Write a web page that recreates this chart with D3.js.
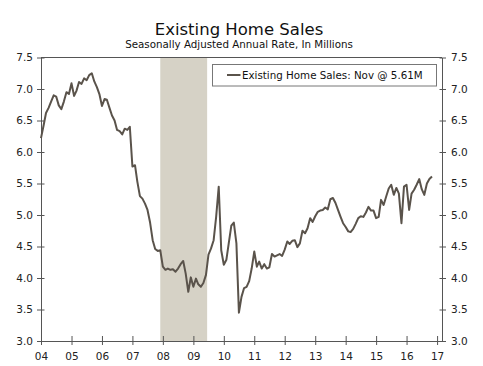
<!DOCTYPE html>
<html>
<head>
<meta charset="utf-8">
<script src="https://cdn.jsdelivr.net/npm/d3@7/dist/d3.min.js"></script>
<style>
  body { margin: 0; background: #fff; }
  svg { display: block; font-family: "DejaVu Sans", Verdana, sans-serif; }
</style>
</head>
<body>
<div id="chart-area"></div>
<script>
// monthly existing home sales, SAAR in millions, Jan 2004 .. Nov 2016
var startMonth = "2004-01";
var sales = [
  6.22, 6.42, 6.62, 6.70, 6.80, 6.90, 6.88, 6.74, 6.68, 6.80, 6.95, 6.92,   // 2004
  7.09, 6.89, 6.97, 7.11, 7.08, 7.17, 7.14, 7.22, 7.25, 7.12, 7.03, 6.92,   // 2005
  6.73, 6.84, 6.83, 6.70, 6.58, 6.50, 6.35, 6.33, 6.28, 6.37, 6.35, 6.40,   // 2006
  5.77, 5.79, 5.53, 5.30, 5.26, 5.18, 5.08, 4.88, 4.60, 4.46, 4.43, 4.44,   // 2007
  4.18, 4.13, 4.15, 4.13, 4.14, 4.10, 4.15, 4.22, 4.27, 4.07, 3.78, 4.01,   // 2008
  3.86, 3.99, 3.90, 3.86, 3.92, 4.05, 4.37, 4.47, 4.60, 4.97, 5.45, 4.44,   // 2009
  4.21, 4.29, 4.55, 4.83, 4.88, 4.55, 3.45, 3.70, 3.84, 3.86, 3.95, 4.15,   // 2010
  4.42, 4.18, 4.26, 4.15, 4.22, 4.15, 4.17, 4.38, 4.34, 4.36, 4.38, 4.35,   // 2011
  4.45, 4.58, 4.54, 4.59, 4.60, 4.49, 4.55, 4.75, 4.71, 4.79, 4.95, 4.89,   // 2012
  4.98, 5.05, 5.07, 5.08, 5.12, 5.09, 5.25, 5.27, 5.19, 5.08, 4.97, 4.87,   // 2013
  4.81, 4.74, 4.73, 4.78, 4.86, 4.95, 4.98, 4.97, 5.04, 5.13, 5.07, 5.07,   // 2014
  4.95, 4.97, 5.24, 5.16, 5.29, 5.42, 5.48, 5.32, 5.43, 5.34, 4.87, 5.45,   // 2015
  5.48, 5.08, 5.34, 5.40, 5.48, 5.57, 5.41, 5.32, 5.50, 5.57, 5.61          // 2016
];
var yTicks = [3.0, 3.5, 4.0, 4.5, 5.0, 5.5, 6.0, 6.5, 7.0, 7.5];
var recession = ["2007-12-01", "2009-06-15"];
var legendLabel = "Existing Home Sales: Nov @ 5.61M";

var width = 483, height = 366;
var margin = {left: 41, right: 41, top: 57.5, bottom: 25};

var parseMonth = d3.timeParse("%Y-%m");
var parseDay = d3.timeParse("%Y-%m-%d");
var data = sales.map(function(v, i){
  return {date: d3.timeMonth.offset(parseMonth(startMonth), i), value: v};
});

var svg = d3.select("#chart-area")
  .append("svg")
  .attr("width", width)
  .attr("height", height);

var x = d3.scaleTime()
  .domain([parseMonth("2004-01"), parseDay("2017-03-01")])
  .range([margin.left, width - margin.right]);

var y = d3.scaleLinear()
  .domain([3, 7.5])
  .range([height - margin.bottom, margin.top]);

// title
svg.append("text")
  .attr("x", 239).attr("y", 35)
  .attr("text-anchor", "middle")
  .attr("font-size", "16.5px")
  .attr("fill", "#111")
  .text("Existing Home Sales");

svg.append("text")
  .attr("x", 239).attr("y", 47.5)
  .attr("text-anchor", "middle")
  .attr("font-size", "10.3px")
  .attr("fill", "#111")
  .text("Seasonally Adjusted Annual Rate, In Millions");

// recession shading
svg.append("rect")
  .attr("x", x(parseDay(recession[0])))
  .attr("y", y(7.5))
  .attr("width", x(parseDay(recession[1])) - x(parseDay(recession[0])))
  .attr("height", y(3) - y(7.5))
  .attr("fill", "#d6d2c6");

// box top line
svg.append("line")
  .attr("x1", x.range()[0]).attr("x2", x.range()[1])
  .attr("y1", y(7.5)).attr("y2", y(7.5))
  .attr("stroke", "#555").attr("stroke-width", 1);

// axes
var yLeft = svg.append("g")
  .attr("transform", "translate(" + x.range()[0] + ",0)")
  .call(d3.axisLeft(y).tickValues(yTicks).tickFormat(d3.format(".1f")).tickSizeInner(4).tickSizeOuter(0).tickPadding(4));

var yRight = svg.append("g")
  .attr("transform", "translate(" + x.range()[1] + ",0)")
  .call(d3.axisRight(y).tickValues(yTicks).tickFormat(d3.format(".1f")).tickSizeInner(4).tickSizeOuter(0).tickPadding(5));

var xAxis = svg.append("g")
  .attr("transform", "translate(0," + y(3) + ")")
  .call(d3.axisBottom(x).ticks(d3.timeYear.every(1)).tickFormat(d3.timeFormat("%y")).tickSizeInner(4).tickSizeOuter(0).tickPadding(8));

[yLeft, yRight, xAxis].forEach(function(g){
  g.select(".domain").attr("stroke", "#555");
  g.selectAll(".tick line").attr("stroke", "#555");
  g.selectAll(".tick text").attr("font-size", "10.5px").attr("fill", "#222")
    .attr("font-family", "DejaVu Sans, Verdana, sans-serif");
});

// ticks cross the axis line
yLeft.selectAll(".tick line").attr("x1", 3.5);
yRight.selectAll(".tick line").attr("x1", -2.5);
xAxis.selectAll(".tick line").attr("y1", -5);

// the series
var line = d3.line()
  .x(function(d){ return x(d.date); })
  .y(function(d){ return y(d.value); });

svg.append("path")
  .datum(data)
  .attr("d", line)
  .attr("fill", "none")
  .attr("stroke", "#5a534b")
  .attr("stroke-width", 2)
  .attr("stroke-linejoin", "round");

// legend
var lg = svg.append("g");
lg.append("rect")
  .attr("x", 212.5).attr("y", 64.5)
  .attr("width", 224).attr("height", 21.5)
  .attr("fill", "#fff")
  .attr("stroke", "#777").attr("stroke-width", 1);
lg.append("line")
  .attr("x1", 227).attr("x2", 240.5)
  .attr("y1", 75).attr("y2", 75)
  .attr("stroke", "#5a534b").attr("stroke-width", 2);
lg.append("text")
  .attr("x", 242).attr("y", 78.8)
  .attr("font-size", "10.3px")
  .attr("fill", "#111")
  .text(legendLabel);
</script>
</body>
</html>
